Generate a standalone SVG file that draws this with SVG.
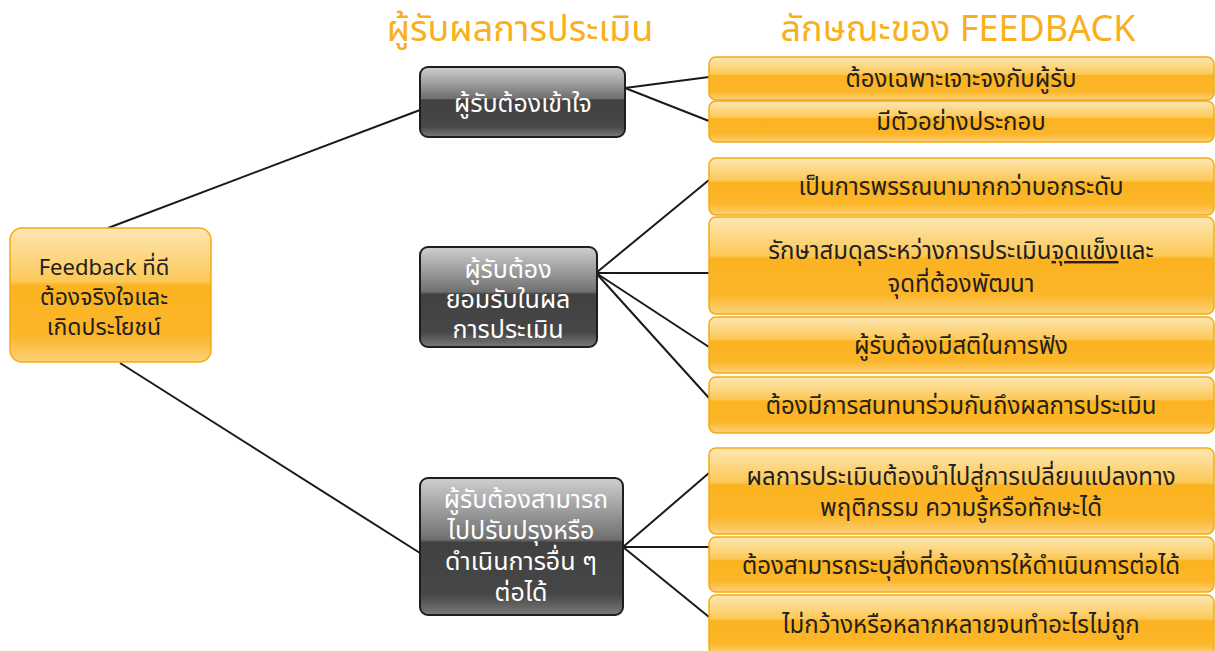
<svg xmlns="http://www.w3.org/2000/svg" width="1215" height="651" viewBox="0 0 1215 651">
<defs>
<linearGradient id="og" x1="0" y1="0" x2="0" y2="1">
<stop offset="0" stop-color="#fde7b4"/>
<stop offset="0.40" stop-color="#fcc856"/>
<stop offset="0.43" stop-color="#fbb320"/>
<stop offset="0.8" stop-color="#fbb629"/>
<stop offset="1" stop-color="#fcd07a"/>
</linearGradient>
<linearGradient id="dg" x1="0" y1="0" x2="0" y2="1">
<stop offset="0" stop-color="#cfcfcf"/>
<stop offset="0.45" stop-color="#6f6f6f"/>
<stop offset="0.47" stop-color="#414141"/>
<stop offset="0.85" stop-color="#474747"/>
<stop offset="1" stop-color="#7a7a7a"/>
</linearGradient>
<style>
.o{fill:url(#og);stroke:#f5aa12;stroke-width:1.5}
.d{fill:url(#dg);stroke:#1e1e1e;stroke-width:2}
.t{font-family:"Noto Sans Thai","Noto Sans","DejaVu Sans",sans-serif;font-size:24px;text-anchor:middle;fill:#231f20}
.w{fill:#ffffff;font-size:25px}
.h{font-family:"Noto Sans Thai","Noto Sans","DejaVu Sans",sans-serif;font-size:36px;fill:#f8b020;text-anchor:middle}
.c line{stroke:#1a1a1a;stroke-width:2}
</style>
</defs>
<rect width="1215" height="651" fill="#ffffff"/>
<text class="h" x="520" y="41">ผู้รับผลการประเมิน</text>
<text class="h" x="958" y="41">ลักษณะของ FEEDBACK</text>
<g class="c" id="connectors">
<line x1="108" y1="228" x2="420" y2="110"/>
<line x1="120" y1="363" x2="420" y2="553"/>
<line x1="625" y1="88" x2="709" y2="77"/>
<line x1="625" y1="88" x2="709" y2="121"/>
<line x1="596" y1="273" x2="709" y2="180"/>
<line x1="596" y1="273" x2="709" y2="273"/>
<line x1="596" y1="273" x2="709" y2="347"/>
<line x1="596" y1="273" x2="709" y2="398"/>
<line x1="623" y1="547" x2="709" y2="473"/>
<line x1="623" y1="547" x2="709" y2="547"/>
<line x1="623" y1="547" x2="709" y2="617"/>
</g>
<g id="root">
<rect class="o" x="10" y="228" width="201" height="134" rx="12"/>
<text class="t" x="104" y="275" style="font-size:22px">Feedback ที่ดี</text>
<text class="t" x="104" y="305" style="font-size:23px">ต้องจริงใจและ</text>
<text class="t" x="104" y="335" style="font-size:23px">เกิดประโยชน์</text>
</g>
<g id="n1">
<rect class="d" x="420" y="67" width="205" height="70" rx="8"/>
<text class="t w" x="523" y="112">ผู้รับต้องเข้าใจ</text>
</g>
<g id="n2">
<rect class="d" x="420" y="247" width="177" height="100" rx="8"/>
<text class="t w" x="508" y="278">ผู้รับต้อง</text>
<text class="t w" x="508" y="308">ยอมรับในผล</text>
<text class="t w" x="508" y="338">การประเมิน</text>
</g>
<g id="n3">
<rect class="d" x="420" y="478" width="203" height="137" rx="8"/>
<text class="t w" x="526" y="508">ผู้รับต้องสามารถ</text>
<text class="t w" x="521" y="539">ไปปรับปรุงหรือ</text>
<text class="t w" x="521" y="570">ดำเนินการอื่น ๆ</text>
<text class="t w" x="521" y="601">ต่อได้</text>
</g>
<g id="fa">
<rect class="o" x="709" y="57" width="505" height="43" rx="7"/>
<text class="t" x="961" y="87">ต้องเฉพาะเจาะจงกับผู้รับ</text>
</g>
<g id="fb">
<rect class="o" x="709" y="101" width="505" height="41" rx="7"/>
<text class="t" x="961" y="130">มีตัวอย่างประกอบ</text>
</g>
<g id="fc">
<rect class="o" x="709" y="158" width="505" height="57" rx="7"/>
<text class="t" x="961" y="195">เป็นการพรรณนามากกว่าบอกระดับ</text>
</g>
<g id="fd">
<rect class="o" x="709" y="217" width="505" height="97" rx="7"/>
<text class="t" x="961" y="259">รักษาสมดุลระหว่างการประเมิน<tspan text-decoration="underline">จุดแข็ง</tspan>และ</text>
<text class="t" x="961" y="292">จุดที่ต้องพัฒนา</text>
</g>
<g id="fe">
<rect class="o" x="709" y="317" width="505" height="56" rx="7"/>
<text class="t" x="961" y="354">ผู้รับต้องมีสติในการฟัง</text>
</g>
<g id="ff">
<rect class="o" x="709" y="377" width="505" height="56" rx="7"/>
<text class="t" x="961" y="414">ต้องมีการสนทนาร่วมกันถึงผลการประเมิน</text>
</g>
<g id="fg">
<rect class="o" x="709" y="448" width="505" height="86" rx="7"/>
<text class="t" x="961" y="485">ผลการประเมินต้องนำไปสู่การเปลี่ยนแปลงทาง</text>
<text class="t" x="961" y="516">พฤติกรรม ความรู้หรือทักษะได้</text>
</g>
<g id="fh">
<rect class="o" x="709" y="537" width="505" height="55" rx="7"/>
<text class="t" x="961" y="574">ต้องสามารถระบุสิ่งที่ต้องการให้ดำเนินการต่อได้</text>
</g>
<g id="fi">
<rect class="o" x="709" y="595" width="505" height="60" rx="7"/>
<text class="t" x="961" y="633">ไม่กว้างหรือหลากหลายจนทำอะไรไม่ถูก</text>
</g>
</svg>
